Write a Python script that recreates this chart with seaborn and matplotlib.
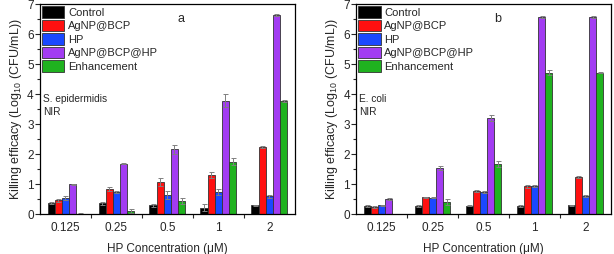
import matplotlib
matplotlib.use("Agg")
import matplotlib.pyplot as plt
import pandas as pd
import seaborn as sns
from matplotlib.ticker import MultipleLocator, FixedLocator

concentrations = ["0.125", "0.25", "0.5", "1", "2"]
groups = ["Control", "AgNP@BCP", "HP", "AgNP@BCP@HP", "Enhancement"]
colors = ["#000000", "#ff1010", "#1a48ff", "#a23cf2", "#1fb21f"]

# S. epidermidis
epi_control = [0.38, 0.36, 0.29, 0.22, 0.30]
epi_agnp = [0.47, 0.84, 1.07, 1.29, 2.25]
epi_hp = [0.53, 0.74, 0.64, 0.74, 0.60]
epi_agnp_hp = [1.00, 1.68, 2.17, 3.78, 6.63]
epi_enh = [0.01, 0.10, 0.45, 1.75, 3.77]
epi_control_err = [0.03, 0.05, 0.06, 0.13, 0.02]
epi_agnp_err = [0.05, 0.08, 0.12, 0.10, 0.03]
epi_hp_err = [0.07, 0.02, 0.12, 0.10, 0.05]
epi_agnp_hp_err = [0.02, 0.02, 0.15, 0.22, 0.03]
epi_enh_err = [0.02, 0.07, 0.10, 0.12, 0.02]

# E. coli
coli_control = [0.28, 0.27, 0.28, 0.27, 0.30]
coli_agnp = [0.24, 0.56, 0.77, 0.93, 1.24]
coli_hp = [0.30, 0.55, 0.74, 0.93, 0.61]
coli_agnp_hp = [0.51, 1.53, 3.19, 6.57, 6.57]
coli_enh = [0.0, 0.40, 1.67, 4.71, 4.71]
coli_control_err = [0.03, 0.02, 0.02, 0.02, 0.02]
coli_agnp_err = [0.04, 0.02, 0.04, 0.05, 0.02]
coli_hp_err = [0.02, 0.02, 0.02, 0.03, 0.03]
coli_agnp_hp_err = [0.04, 0.07, 0.10, 0.02, 0.02]
coli_enh_err = [0.0, 0.09, 0.10, 0.09, 0.02]


def make_frame(series):
    rows = []
    for g, vals in zip(groups, series):
        for c, v in zip(concentrations, vals):
            rows.append({"conc": c, "group": g, "value": v})
    return pd.DataFrame(rows)


def draw_panel(ax, series, errors, letter, organism):
    df = make_frame(series)
    sns.barplot(data=df, x="conc", y="value", hue="group", order=concentrations,
                hue_order=groups, palette=colors, saturation=1, errorbar=None,
                width=0.7, edgecolor="#333333", linewidth=0.6, ax=ax)
    for cont, errs in zip(ax.containers, errors):
        xs = [b.get_x() + b.get_width() / 2 for b in cont]
        hs = [b.get_height() for b in cont]
        ax.errorbar(xs, hs, yerr=errs, fmt="none", ecolor="#808080",
                    elinewidth=0.7, capsize=1.8, capthick=0.7)
    ax.set_ylim(0, 7)
    ax.set_xlim(-0.5, 4.5)
    ax.yaxis.set_major_locator(MultipleLocator(1))
    ax.yaxis.set_minor_locator(MultipleLocator(0.5))
    ax.xaxis.set_minor_locator(FixedLocator([0.5, 1.5, 2.5, 3.5]))
    ax.tick_params(axis="x", which="major", length=0, labelsize=8.5, pad=6)
    ax.tick_params(axis="x", which="minor", length=3, width=0.8, direction="out")
    ax.tick_params(axis="y", which="major", length=3.5, width=0.8, labelsize=8.5, pad=1)
    ax.tick_params(axis="y", which="minor", length=2, width=0.8)
    for s in ax.spines.values():
        s.set_linewidth(0.9)
        s.set_color("black")
    ax.set_xlabel("HP Concentration (\u03bcM)", fontsize=8.5, labelpad=6)
    ax.set_ylabel("Killing efficacy (Log$_{10}$ (CFU/mL))", fontsize=9, labelpad=2)
    ax.text(0.555, 0.93, letter, transform=ax.transAxes, fontsize=9,
            ha="center", va="center")
    ax.text(0.012, 0.55, organism, transform=ax.transAxes, fontsize=7.3, va="center")
    ax.text(0.012, 0.485, "NIR", transform=ax.transAxes, fontsize=7.3, va="center")
    ax.legend(loc="upper left", frameon=False, fontsize=8, handlelength=2.0,
              handleheight=1.25, labelspacing=0.15, handletextpad=0.35,
              borderaxespad=0.1, borderpad=0.1)


sns.set_theme(style="ticks")
plt.rcParams["font.family"] = ["Liberation Sans", "DejaVu Sans"]
plt.rcParams["mathtext.fontset"] = "custom"
plt.rcParams["mathtext.rm"] = "Liberation Sans"

fig = plt.figure(figsize=(6.14, 2.54), dpi=100)
ax_a = fig.add_axes([0.065, 0.157, 0.415, 0.827])
ax_b = fig.add_axes([0.58, 0.157, 0.415, 0.827])

draw_panel(ax_a,
           [epi_control, epi_agnp, epi_hp, epi_agnp_hp, epi_enh],
           [epi_control_err, epi_agnp_err, epi_hp_err, epi_agnp_hp_err, epi_enh_err],
           "a", "S. epidermidis")
draw_panel(ax_b,
           [coli_control, coli_agnp, coli_hp, coli_agnp_hp, coli_enh],
           [coli_control_err, coli_agnp_err, coli_hp_err, coli_agnp_hp_err, coli_enh_err],
           "b", "E. coli")

fig.savefig("out.png", dpi=100)
